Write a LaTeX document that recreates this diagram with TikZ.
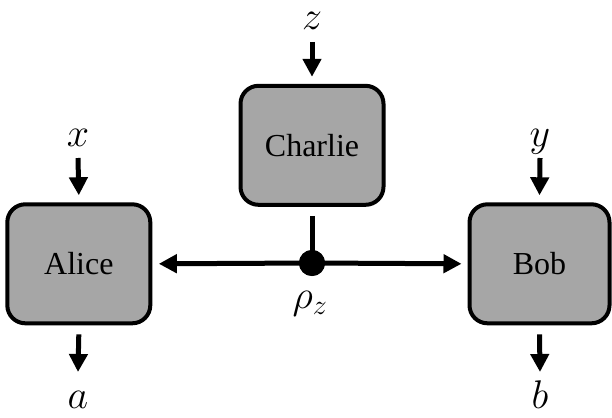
\documentclass[tikz,border=0pt]{standalone}
\usepackage{fix-cm}
\usepackage{fontspec}
\setmainfont{Liberation Serif}
\usetikzlibrary{arrows.meta}
\definecolor{boxgray}{RGB}{166,166,166}
\begin{document}
\begin{tikzpicture}[x=1pt,y=-1pt,
  box/.style={draw, line width=4pt, fill=boxgray, rounded corners=18pt,
    minimum width=143pt, minimum height=119pt, inner sep=0pt,
    font=\fontsize{32}{38}\selectfont},
  arr/.style={line width=5pt, -{Triangle[length=18pt,width=18pt]}},
  link/.style={line width=5pt},
  lbl/.style={inner sep=0pt, anchor=base, font=\fontsize{40}{48}\selectfont}]
\useasboundingbox (0,0) rectangle (612,417);

\node[box] (alice) at (78.8,263.8) {Alice};
\node[box] (charlie) at (312,145.3) {Charlie};
\node[box, minimum width=140pt] (bob) at (539.5,263.8) {Bob};

\node[circle, fill=black, inner sep=0pt, minimum size=26pt] (dot) at (312,263) {};

\node[lbl] (xl) at (78,146) {$x$};
\node[lbl] (yl) at (540,146) {$y$};
\node[lbl] (zl) at (312,30) {$z$};
\node[lbl] (al) at (78,408) {$a$};
\node[lbl] (bl) at (540,408) {$b$};
\node[lbl] (rl) at (310,308) {$\rho_z$};

\coordinate (xs) at (78,158);
\coordinate (ys) at (540,158);
\coordinate (zs) at (312,42);
\coordinate (ae) at (78,372);
\coordinate (be) at (540,372);

\draw[arr] (xs) -- ([yshift=7pt]alice.north);
\draw[arr] (ys) -- ([yshift=7pt]bob.north);
\draw[arr] (zs) -- ([yshift=7pt]charlie.north);
\draw[arr] ([yshift=-9pt]alice.south) -- (ae);
\draw[arr] ([yshift=-9pt]bob.south) -- (be);

\draw[link] ([yshift=-9pt]charlie.south) -- (dot.center);
\draw[arr] (dot.center) -- ([xshift=6.5pt]alice.east);
\draw[arr] (dot.center) -- ([xshift=-6pt]bob.west);
\node[circle, fill=black, inner sep=0pt, minimum size=26pt] at (dot) {};
\end{tikzpicture}
\end{document}
